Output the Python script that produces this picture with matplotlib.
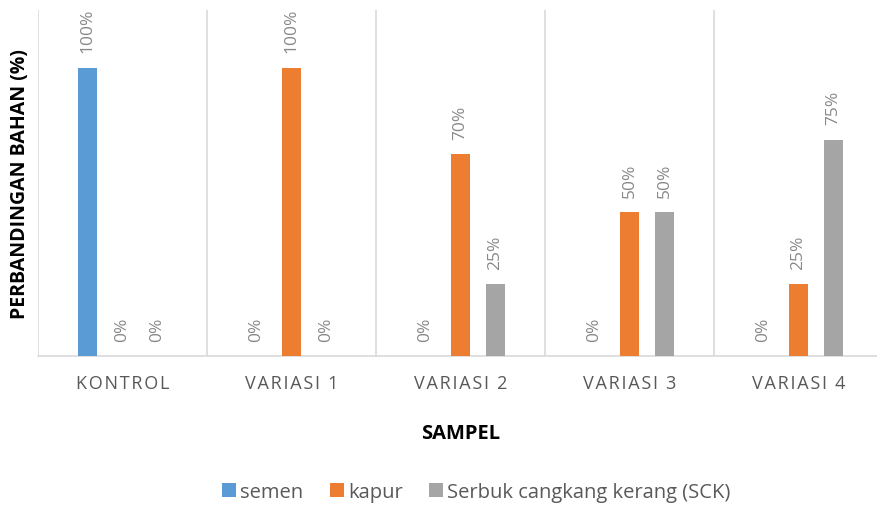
import numpy as np
import matplotlib
matplotlib.use("Agg")
import matplotlib.pyplot as plt

# data
kategori = ["KONTROL", "VARIASI 1", "VARIASI 2", "VARIASI 3", "VARIASI 4"]
semen = [1.00, 0.00, 0.00, 0.00, 0.00]
kapur = [0.00, 1.00, 0.70, 0.50, 0.25]
sck = [0.00, 0.00, 0.25, 0.50, 0.75]
nama_seri = ["semen", "kapur", "Serbuk cangkang kerang (SCK)"]
warna = ["#5b9bd5", "#ed7d31", "#a5a5a5"]

plt.rcParams['font.family'] = ['Open Sans', 'DejaVu Sans']

fig = plt.figure(figsize=(8.77, 5.06), dpi=100)
ax = fig.add_axes([38/877, 149/506, 845/877, 346/506])

x = np.arange(len(kategori))
lebar = 0.115
jarak = 0.207
series = [semen, kapur, sck]
for i, (nilai, nama, c) in enumerate(zip(series, nama_seri, warna)):
    pos = x + (i - 1)*jarak
    ax.bar(pos, nilai, width=lebar, color=c, label=nama, zorder=3)
    for px, v in zip(pos, nilai):
        ax.annotate(f"{v*100:.0f}%", (px, v), xytext=(0, 11), textcoords="offset points",
                    rotation=90, ha="center", va="bottom", fontsize=12.5, color="#898989")

ax.set_xlim(-0.5, len(kategori) - 0.5)
ax.set_ylim(0, 1.2)
ax.set_yticks([])
for s in ["top", "right", "left"]:
    ax.spines[s].set_visible(False)
ax.spines["bottom"].set_color("#d9d9d9")
ax.spines["bottom"].set_linewidth(1.2)
for garis in np.arange(-0.5, len(kategori), 1.0):
    ax.axvline(garis, color="#d9d9d9", lw=1.2, zorder=1)

# label kategori dengan spasi antar huruf
label_renggang = ["\u200a".join(k) for k in kategori]
ax.set_xticks(x)
ax.set_xticklabels(label_renggang, fontsize=13, color="#595959")
ax.tick_params(axis="x", length=0, pad=13)

ax.set_xlabel("SAMPEL", fontsize=14.5, fontweight="bold", color="black", labelpad=22)
ax.set_ylabel("PERBANDINGAN BAHAN (%)", fontsize=14, fontweight="bold", color="black", labelpad=6)

leg = fig.legend(loc="lower center", bbox_to_anchor=(0.543, -0.03), ncol=3, frameon=False,
                 fontsize=14.5, handlelength=0.7, handleheight=0.7, handletextpad=0.2,
                 columnspacing=1.3)
for t in leg.get_texts():
    t.set_color("#595959")

fig.savefig("out.png", dpi=100)
